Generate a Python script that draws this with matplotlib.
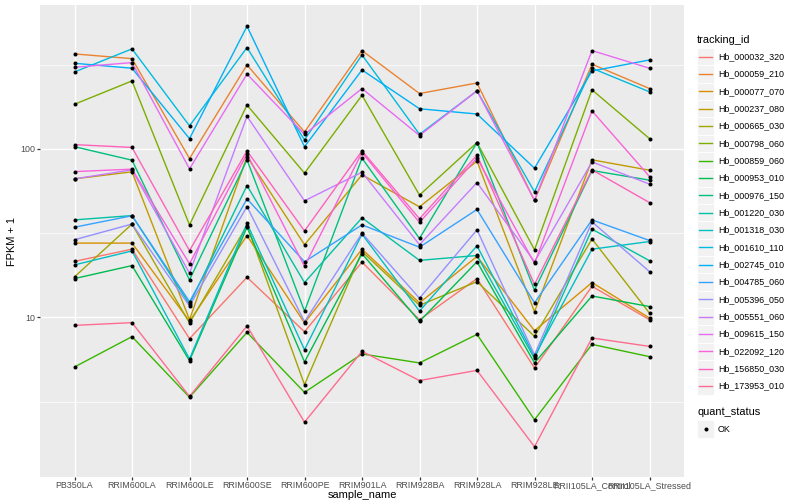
import matplotlib
matplotlib.use("Agg")
import matplotlib.pyplot as plt
from matplotlib.lines import Line2D
from matplotlib.patches import Rectangle
from matplotlib.ticker import FixedLocator, NullFormatter

plt.rcParams['font.family'] = ['Liberation Sans', 'DejaVu Sans']

samples = ["PB350LA", "RRIM600LA", "RRIM600LE", "RRIM600SE", "RRIM600PE",
           "RRIM901LA", "RRIM928BA", "RRIM928LA", "RRIM928LE",
           "RRII105LA_Control", "RRII105LA_Stressed"]

tracking_ids = ["Hb_000032_320", "Hb_000059_210", "Hb_000077_070", "Hb_000237_080",
                "Hb_000665_030", "Hb_000798_060", "Hb_000859_060", "Hb_000953_010",
                "Hb_000976_150", "Hb_001220_030", "Hb_001318_030", "Hb_001610_110",
                "Hb_002745_010", "Hb_004785_060", "Hb_005396_050", "Hb_005551_060",
                "Hb_009615_150", "Hb_022092_120", "Hb_156850_030", "Hb_173953_010"]

series_colors = ["#F8766D", "#EA8331", "#D89000", "#C09B00", "#A3A500", "#7CAE00",
                 "#39B600", "#00BB4E", "#00BF7D", "#00C1A3", "#00BFC4", "#00BAE0",
                 "#00B0F6", "#35A2FF", "#9590FF", "#C77CFF", "#E76BF3", "#FA62DB",
                 "#FF62BC", "#FF6C91"]

# FPKM + 1 values, one list per tracking_id, in sample order
Hb_000032_320 = [21.5, 25.4, 7.48, 17.3, 8.22, 21.3, 9.69, 17.0, 5.01, 15.3, 9.69]
Hb_000059_210 = [366, 343, 87.6, 315, 126, 383, 213, 246, 49.4, 318, 228]
Hb_000077_070 = [27.6, 27.6, 9.47, 30.6, 9.27, 25.4, 12.2, 23.0, 8.34, 16.1, 9.92]
Hb_000237_080 = [66.4, 73.1, 9.69, 90.0, 27.0, 70.1, 45.3, 84.5, 10.8, 86.1, 74.7]
Hb_000665_030 = [17.4, 35.8, 9.27, 35.1, 3.99, 24.6, 11.8, 16.3, 7.72, 29.2, 10.6]
Hb_000798_060 = [184, 253, 35.4, 182, 71.8, 208, 53.2, 109, 25.2, 224, 115]
Hb_000859_060 = [5.08, 7.69, 3.36, 8.15, 3.59, 6.07, 5.37, 7.93, 2.47, 6.92, 5.85]
Hb_000953_010 = [17.0, 20.3, 5.54, 34.3, 5.44, 23.9, 9.47, 21.4, 5.37, 13.4, 11.6]
Hb_000976_150 = [103, 85.7, 16.7, 86.1, 10.9, 88.1, 29.4, 109, 14.5, 74.4, 65.2]
Hb_001220_030 = [37.9, 40.2, 12.0, 60.6, 16.1, 39.0, 21.8, 23.3, 5.71, 33.4, 21.7]
Hb_001318_030 = [20.5, 24.8, 5.67, 36.1, 6.43, 31.2, 10.9, 26.6, 5.87, 25.4, 28.2]
Hb_001610_110 = [286, 392, 137, 399, 113, 361, 122, 221, 55.6, 301, 218]
Hb_002745_010 = [322, 301, 115, 534, 103, 294, 173, 161, 76.8, 290, 337]
Hb_004785_060 = [34.3, 40.1, 12.4, 50.5, 21.4, 35.4, 26.1, 43.7, 12.2, 37.9, 28.6]
Hb_005396_050 = [28.9, 35.8, 11.7, 45.5, 9.43, 31.6, 13.0, 33.1, 5.99, 36.9, 18.7]
Hb_005551_060 = [66.4, 75.1, 18.3, 156, 49.2, 72.7, 27.0, 63.1, 21.4, 83.7, 61.8]
Hb_009615_150 = [305, 325, 76.1, 278, 122, 228, 120, 221, 49.4, 383, 301]
Hb_022092_120 = [73.3, 75.8, 20.8, 93.4, 20.1, 95.1, 36.6, 88.1, 20.9, 168, 68.5]
Hb_156850_030 = [106, 102, 24.9, 97.3, 32.6, 97.3, 38.5, 91.8, 15.7, 75.1, 48.0]
Hb_173953_010 = [8.97, 9.31, 3.40, 8.89, 2.39, 6.29, 4.22, 4.85, 1.71, 7.55, 6.73]

series_values = [Hb_000032_320, Hb_000059_210, Hb_000077_070, Hb_000237_080,
                 Hb_000665_030, Hb_000798_060, Hb_000859_060, Hb_000953_010,
                 Hb_000976_150, Hb_001220_030, Hb_001318_030, Hb_001610_110,
                 Hb_002745_010, Hb_004785_060, Hb_005396_050, Hb_005551_060,
                 Hb_009615_150, Hb_022092_120, Hb_156850_030, Hb_173953_010]

quant_levels = ["OK"]
y_ticks = [10, 100]
y_ticklabels = ["10", "100"]

W, H = 800, 500
fig = plt.figure(figsize=(8, 5), dpi=100)
fig.patch.set_facecolor("white")

pl, pr, pt, pb = 40, 684, 5, 477
ax = fig.add_axes([pl / W, 1 - pb / H, (pr - pl) / W, (pb - pt) / H])
ax.set_facecolor("#EBEBEB")
for s in ax.spines.values():
    s.set_visible(False)

x = list(range(len(samples)))
for vals, col in zip(series_values, series_colors):
    ax.plot(x, vals, color=col, lw=1.0, zorder=2, solid_capstyle="butt")
for vals in series_values:
    ax.plot(x, vals, linestyle="none", marker="o", ms=2.9, color="black",
            markeredgewidth=0, zorder=3)

ax.set_yscale("log")
ax.set_ylim(1.13, 714)
ax.set_xlim(-0.6, len(samples) - 0.4)

ax.set_xticks(x)
ax.set_xticklabels(samples)
ax.yaxis.set_major_locator(FixedLocator(y_ticks))
ax.set_yticklabels(y_ticklabels)
ax.yaxis.set_minor_locator(FixedLocator([10 ** 0.5, 10 ** 1.5, 10 ** 2.5]))
ax.yaxis.set_minor_formatter(NullFormatter())
ax.xaxis.set_minor_locator(FixedLocator([]))

ax.tick_params(which="major", length=2.0, width=0.9, color="#333333",
               labelsize=6.4, labelcolor="#4D4D4D", pad=1.2)
ax.tick_params(which="minor", length=0)
ax.grid(which="major", color="white", lw=1.0, zorder=0)
ax.grid(which="minor", axis="y", color="white", lw=0.5, zorder=0)
ax.set_axisbelow(True)

fig.text(12 / W, 1 - (pt + pb) / 2 / H, "FPKM + 1", rotation=90, ha="center",
         va="center", fontsize=7.9, color="black")
fig.text((pl + pr) / 2 / W, 1 - 495.5 / H, "sample_name", ha="center", va="center",
         fontsize=7.9, color="black")

# legend: tracking_id
kx0, kw = 697, 17.3
fig.text(kx0 / W, 1 - 40 / H, "tracking_id", ha="left", va="center",
         fontsize=7.9, color="black")
y0, dy = 56.7, 17.33
for i, (name, col) in enumerate(zip(tracking_ids, series_colors)):
    yc = y0 + i * dy
    fig.add_artist(Rectangle((kx0 / W, 1 - (yc + dy / 2) / H), kw / W, dy / H,
                             transform=fig.transFigure, facecolor="#F2F2F2",
                             edgecolor="white", lw=0.6))
    fig.add_artist(Line2D([(kx0 + 2) / W, (kx0 + kw - 2) / W],
                          [1 - yc / H, 1 - yc / H], transform=fig.transFigure,
                          color=col, lw=1.0))
    fig.text((kx0 + kw + 3.5) / W, 1 - yc / H, name, ha="left", va="center",
             fontsize=6.4, color="black")

# legend: quant_status
fig.text(kx0 / W, 1 - 412 / H, "quant_status", ha="left", va="center",
         fontsize=7.9, color="black")
for j, lev in enumerate(quant_levels):
    yc = 429 + j * dy
    fig.add_artist(Rectangle((kx0 / W, 1 - (yc + dy / 2) / H), kw / W, dy / H,
                             transform=fig.transFigure, facecolor="#F2F2F2",
                             edgecolor="white", lw=0.6))
    fig.add_artist(Line2D([(kx0 + kw / 2) / W], [1 - yc / H], transform=fig.transFigure,
                          marker="o", ms=2.9, color="black", markeredgewidth=0,
                          linestyle="none"))
    fig.text((kx0 + kw + 3.5) / W, 1 - yc / H, lev, ha="left", va="center",
             fontsize=6.4, color="black")

fig.savefig("out.png", dpi=100)
